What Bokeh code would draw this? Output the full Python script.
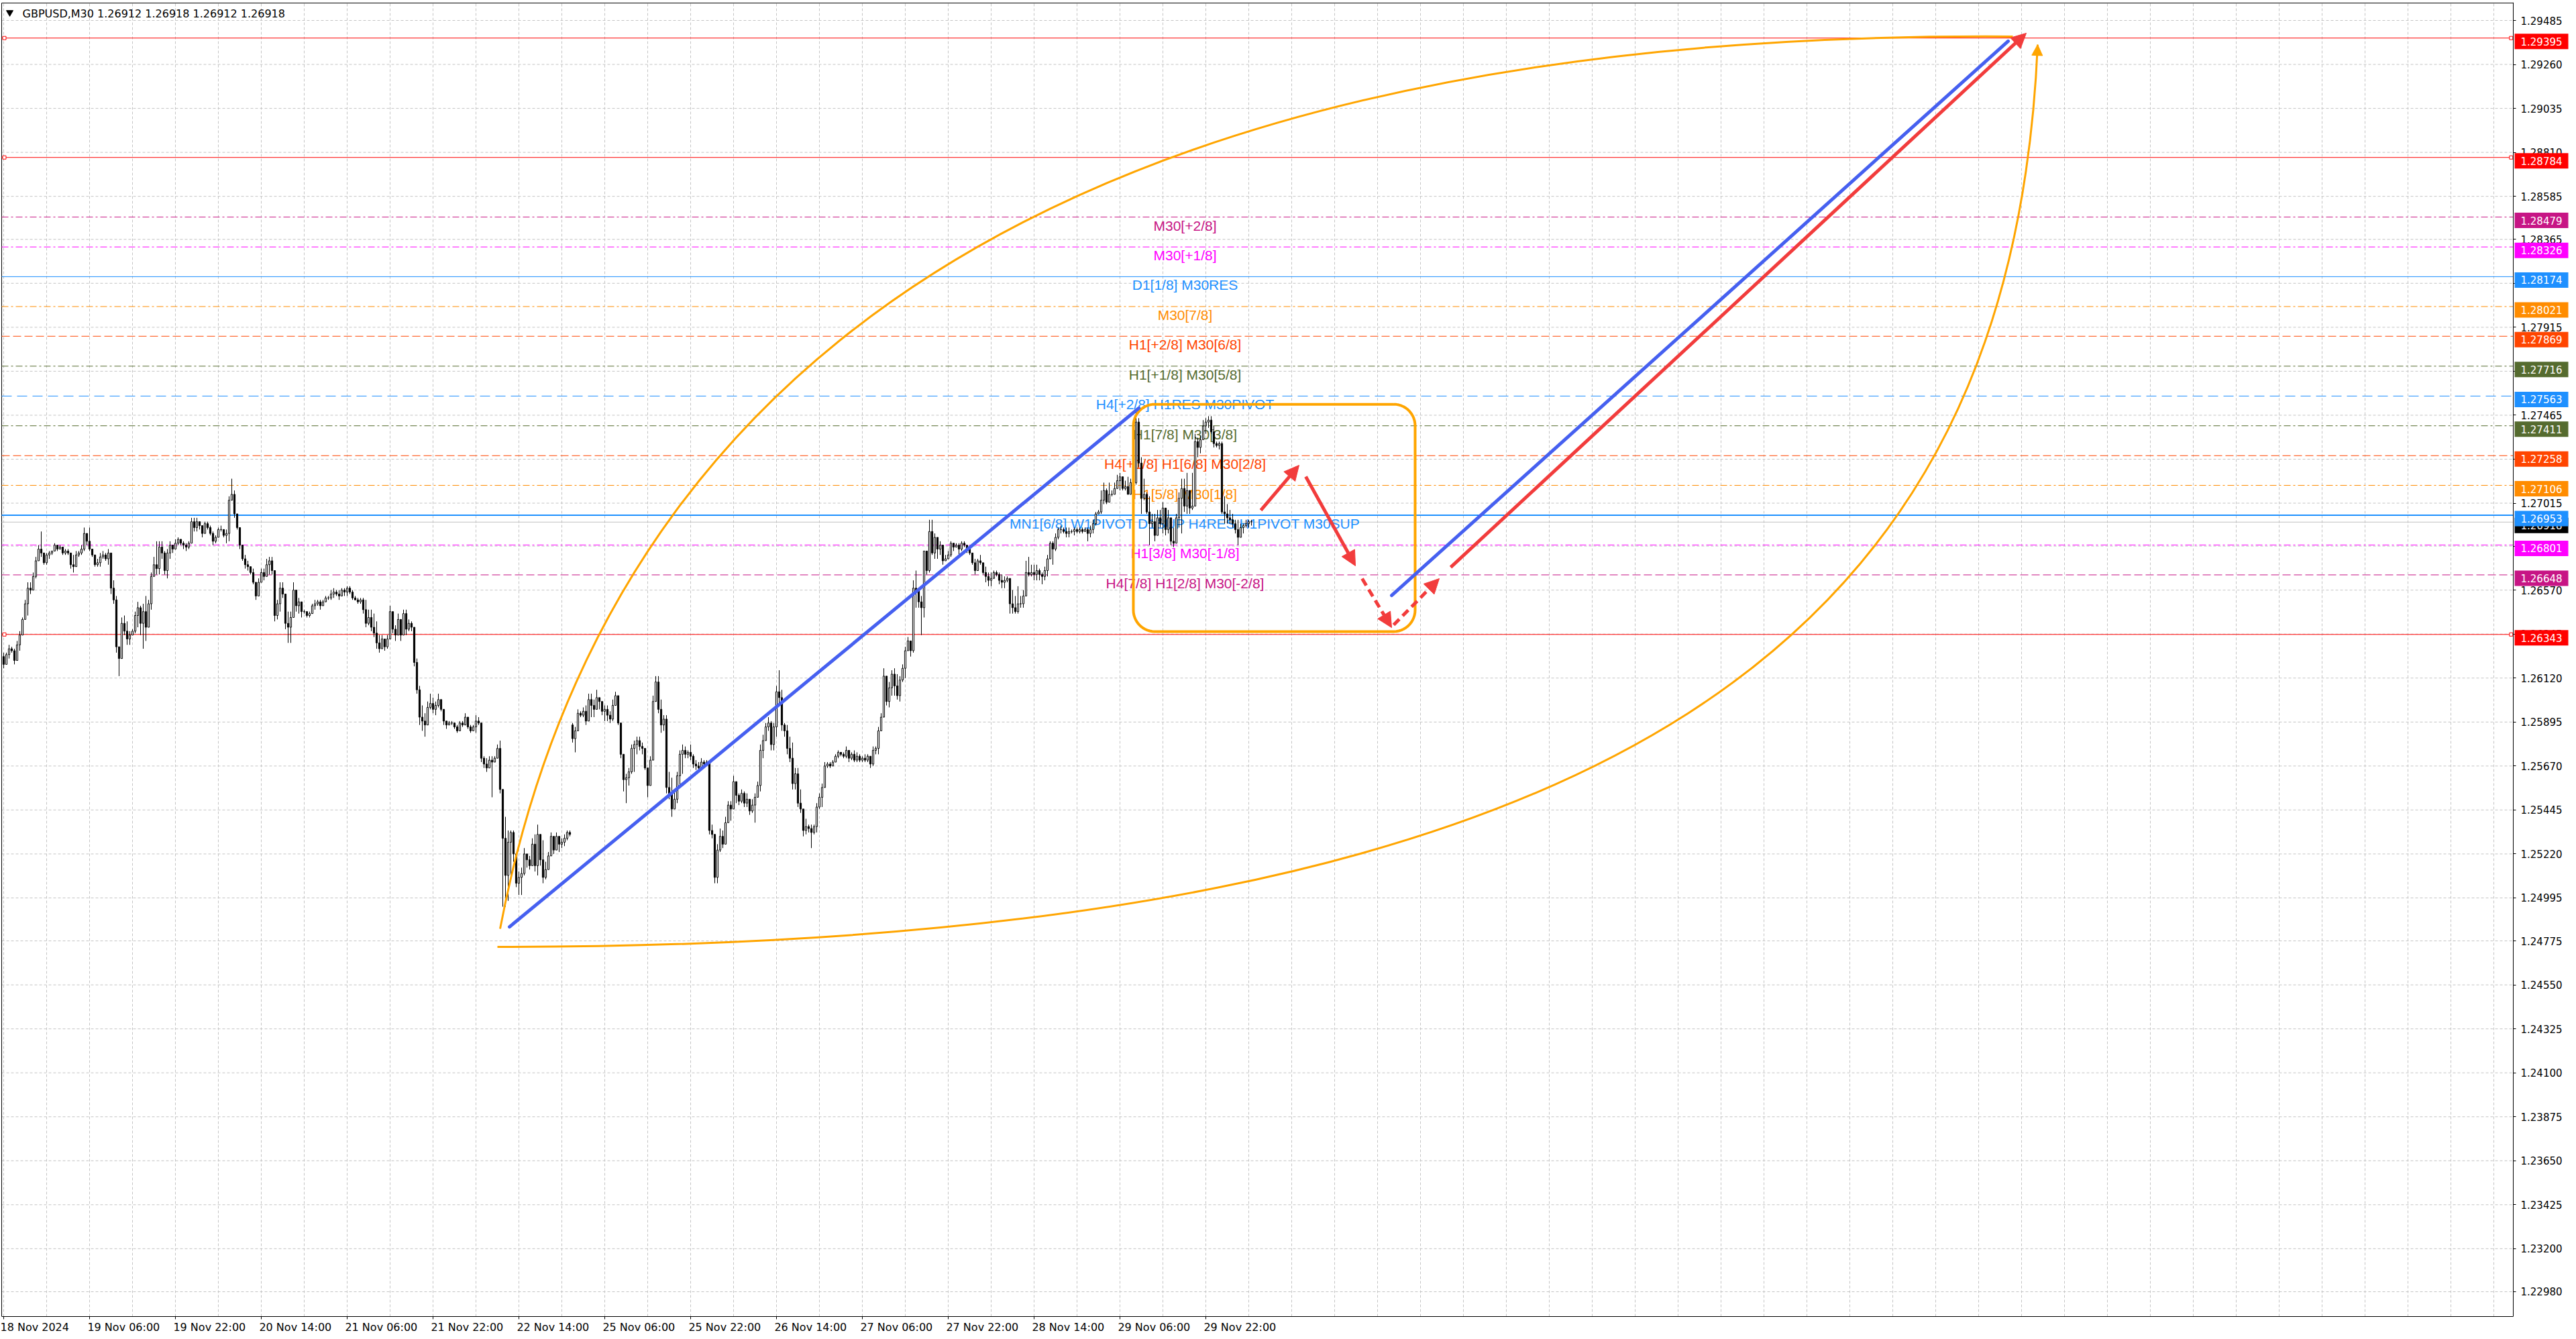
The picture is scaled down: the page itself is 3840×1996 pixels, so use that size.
import numpy as np
from bokeh.plotting import figure
from bokeh.models import (Range1d, FixedTicker, Arrow, NormalHead, LinearAxis,
                          ColumnDataSource, NumeralTickFormatter)
from bokeh.core.properties import value
from bokeh.embed import file_html
from bokeh.resources import INLINE

# ---------------- data ----------------
header = "GBPUSD,M30  1.26912 1.26918 1.26912 1.26918"

date_ticks = [0, 32, 64, 96, 128, 160, 192, 224, 256, 288, 320, 352, 384, 416, 448]
date_labels = ["18 Nov 2024", "19 Nov 06:00", "19 Nov 22:00", "20 Nov 14:00", "21 Nov 06:00",
               "21 Nov 22:00", "22 Nov 14:00", "25 Nov 06:00", "25 Nov 22:00", "26 Nov 14:00",
               "27 Nov 06:00", "27 Nov 22:00", "28 Nov 14:00", "29 Nov 06:00", "29 Nov 22:00"]

price_ticks = [1.29485, 1.29260, 1.29035, 1.28810, 1.28585, 1.28365, 1.28140, 1.27915, 1.27690,
               1.27465, 1.27240, 1.27015, 1.26795, 1.26570, 1.26345, 1.26120, 1.25895, 1.25670,
               1.25445, 1.25220, 1.24995, 1.24775, 1.24550, 1.24325, 1.24100, 1.23875, 1.23650,
               1.23425, 1.23200, 1.22980]

opens = [
 1.2623, 1.2619, 1.2624, 1.2627, 1.2626, 1.2621, 1.2629, 1.2634, 1.2642, 1.2650,
 1.2658, 1.2657, 1.2664, 1.2672, 1.2678, 1.2676, 1.2671, 1.2675, 1.2676, 1.2677,
 1.2680, 1.2678, 1.2679, 1.2676, 1.2677, 1.2676, 1.2670, 1.2669, 1.2675, 1.2676,
 1.2678, 1.2686, 1.2682, 1.2678, 1.2675, 1.2670, 1.2671, 1.2674, 1.2675, 1.2673,
 1.2676, 1.2658, 1.2652, 1.2628, 1.2622, 1.2640, 1.2636, 1.2632, 1.2634, 1.2636,
 1.2644, 1.2648, 1.2640, 1.2646, 1.2638, 1.2650, 1.2664, 1.2670, 1.2668, 1.2679,
 1.2676, 1.2667, 1.2676, 1.2680, 1.2678, 1.2681, 1.2683, 1.2681, 1.2680, 1.2679,
 1.2681, 1.2692, 1.2689, 1.2692, 1.2690, 1.2686, 1.2691, 1.2689, 1.2686, 1.2682,
 1.2684, 1.2688, 1.2688, 1.2685, 1.2686, 1.2703, 1.2706, 1.2696, 1.2689, 1.2680,
 1.2673, 1.2670, 1.2669, 1.2666, 1.2661, 1.2654, 1.2661, 1.2666, 1.2664, 1.2670,
 1.2672, 1.2667, 1.2644, 1.2650, 1.2658, 1.2655, 1.2640, 1.2638, 1.2643, 1.2657,
 1.2649, 1.2651, 1.2646, 1.2646, 1.2644, 1.2645, 1.2649, 1.2650, 1.2651, 1.2649,
 1.2651, 1.2653, 1.2653, 1.2655, 1.2656, 1.2655, 1.2654, 1.2657, 1.2656, 1.2658,
 1.2656, 1.2653, 1.2652, 1.2651, 1.2652, 1.2647, 1.2640, 1.2643, 1.2638, 1.2635,
 1.2630, 1.2627, 1.2632, 1.2628, 1.2632, 1.2646, 1.2637, 1.2634, 1.2642, 1.2634,
 1.2645, 1.2637, 1.2640, 1.2638, 1.2620, 1.2606, 1.2592, 1.2590, 1.2588, 1.2597,
 1.2599, 1.2596, 1.2598, 1.2601, 1.2596, 1.2590, 1.2588, 1.2589, 1.2589, 1.2587,
 1.2585, 1.2589, 1.2588, 1.2592, 1.2587, 1.2585, 1.2587, 1.2590, 1.2589, 1.2571,
 1.2568, 1.2566, 1.2570, 1.2569, 1.2571, 1.2576, 1.2555, 1.2530, 1.2511, 1.2528,
 1.2533, 1.2522, 1.2507, 1.2510, 1.2512, 1.2522, 1.2519, 1.2516, 1.2527, 1.2516,
 1.2532, 1.2519, 1.2510, 1.2514, 1.2521, 1.2531, 1.2524, 1.2531, 1.2527, 1.2528,
 1.2530, 1.2533, 1.2588, 1.2581, 1.2585, 1.2594, 1.2593, 1.2595, 1.2590, 1.2601,
 1.2598, 1.2596, 1.2602, 1.2600, 1.2595, 1.2596, 1.2593, 1.2591, 1.2598, 1.2603,
 1.2589, 1.2573, 1.2560, 1.2561, 1.2564, 1.2576, 1.2578, 1.2580, 1.2577, 1.2576,
 1.2566, 1.2557, 1.2570, 1.2600, 1.2610, 1.2596, 1.2588, 1.2591, 1.2556, 1.2553,
 1.2545, 1.2550, 1.2562, 1.2573, 1.2575, 1.2573, 1.2574, 1.2572, 1.2568, 1.2567,
 1.2566, 1.2569, 1.2568, 1.2569, 1.2534, 1.2532, 1.2510, 1.2524, 1.2531, 1.2527,
 1.2538, 1.2547, 1.2545, 1.2559, 1.2552, 1.2549, 1.2553, 1.2548, 1.2550, 1.2544,
 1.2547, 1.2551, 1.2557, 1.2575, 1.2580, 1.2587, 1.2589, 1.2578, 1.2587, 1.2605,
 1.2602, 1.2588, 1.2585, 1.2576, 1.2571, 1.2558, 1.2563, 1.2548, 1.2545, 1.2534,
 1.2536, 1.2535, 1.2533, 1.2536, 1.2546, 1.2551, 1.2556, 1.2567, 1.2568, 1.2567,
 1.2569, 1.2572, 1.2574, 1.2573, 1.2572, 1.2575, 1.2571, 1.2573, 1.2570, 1.2572,
 1.2570, 1.2571, 1.2570, 1.2572, 1.2568, 1.2575, 1.2576, 1.2585, 1.2592, 1.2613,
 1.2600, 1.2607, 1.2614, 1.2608, 1.2603, 1.2611, 1.2617, 1.2626, 1.2631, 1.2626,
 1.2658, 1.2657, 1.2651, 1.2648, 1.2677, 1.2667, 1.2687, 1.2676, 1.2684, 1.2678,
 1.2680, 1.2672, 1.2673, 1.2675, 1.2681, 1.2679, 1.2680, 1.2678, 1.2681, 1.2680,
 1.2678, 1.2676, 1.2671, 1.2667, 1.2672, 1.2671, 1.2666, 1.2664, 1.2662, 1.2663,
 1.2666, 1.2665, 1.2662, 1.2661, 1.2662, 1.2663, 1.2650, 1.2648, 1.2646, 1.2650,
 1.2650, 1.2654, 1.2666, 1.2665, 1.2666, 1.2665, 1.2667, 1.2665, 1.2664, 1.2667,
 1.2673, 1.2681, 1.2678, 1.2684, 1.2688, 1.2688, 1.2687, 1.2686, 1.2687, 1.2687,
 1.2688, 1.2687, 1.2688, 1.2687, 1.2688, 1.2686, 1.2688, 1.2691, 1.2696, 1.2697,
 1.2703, 1.2708, 1.2702, 1.2706, 1.2706, 1.2709, 1.2713, 1.2715, 1.2709, 1.2710,
 1.2706, 1.2712, 1.2712, 1.2743, 1.2722, 1.2704, 1.2706, 1.2697, 1.2691, 1.2692,
 1.2685, 1.2694, 1.2691, 1.2699, 1.2688, 1.2694, 1.2682, 1.2681, 1.2694, 1.2704,
 1.2709, 1.2700, 1.2708, 1.2699, 1.2700, 1.2733, 1.2730, 1.2734, 1.2741, 1.2743,
 1.2744, 1.2738, 1.2732, 1.2731, 1.2732, 1.2697, 1.2696, 1.2694, 1.2693, 1.2691,
 1.2688, 1.2684, 1.2689, 1.2690, 1.2691, 1.2692]

highs = [
 1.2625, 1.2625, 1.2629, 1.2628, 1.2627, 1.2631, 1.2636, 1.2643, 1.2652, 1.2661,
 1.2661, 1.2666, 1.2674, 1.2680, 1.2687, 1.2675, 1.2676, 1.2677, 1.2677, 1.2681,
 1.2680, 1.2680, 1.2679, 1.2678, 1.2678, 1.2676, 1.2675, 1.2677, 1.2677, 1.2680,
 1.2689, 1.2686, 1.2689, 1.2678, 1.2674, 1.2673, 1.2676, 1.2677, 1.2676, 1.2678,
 1.2674, 1.2662, 1.2654, 1.2627, 1.2643, 1.2644, 1.2641, 1.2636, 1.2637, 1.2646,
 1.2651, 1.2649, 1.2650, 1.2654, 1.2652, 1.2666, 1.2674, 1.2682, 1.2682, 1.2682,
 1.2677, 1.2678, 1.2682, 1.2680, 1.2683, 1.2684, 1.2683, 1.2682, 1.2681, 1.2682,
 1.2694, 1.2694, 1.2694, 1.2692, 1.2689, 1.2692, 1.2692, 1.2690, 1.2687, 1.2685,
 1.2689, 1.2690, 1.2688, 1.2688, 1.2705, 1.2714, 1.2708, 1.2696, 1.2689, 1.2680,
 1.2675, 1.2672, 1.2669, 1.2668, 1.2660, 1.2663, 1.2668, 1.2668, 1.2673, 1.2674,
 1.2674, 1.2666, 1.2652, 1.2661, 1.2661, 1.2653, 1.2646, 1.2646, 1.2661, 1.2654,
 1.2653, 1.2650, 1.2647, 1.2646, 1.2646, 1.2650, 1.2652, 1.2652, 1.2652, 1.2652,
 1.2654, 1.2654, 1.2657, 1.2658, 1.2657, 1.2657, 1.2658, 1.2658, 1.2659, 1.2659,
 1.2657, 1.2654, 1.2653, 1.2653, 1.2653, 1.2652, 1.2647, 1.2647, 1.2645, 1.2641,
 1.2634, 1.2634, 1.2631, 1.2634, 1.2649, 1.2645, 1.2639, 1.2645, 1.2641, 1.2647,
 1.2647, 1.2642, 1.2641, 1.2638, 1.2622, 1.2608, 1.2598, 1.2594, 1.2600, 1.2604,
 1.2602, 1.2600, 1.2604, 1.2601, 1.2596, 1.2590, 1.2590, 1.2590, 1.2589, 1.2588,
 1.2590, 1.2590, 1.2594, 1.2590, 1.2588, 1.2588, 1.2593, 1.2592, 1.2585, 1.2572,
 1.2571, 1.2572, 1.2572, 1.2572, 1.2578, 1.2580, 1.2554, 1.2541, 1.2534, 1.2534,
 1.2534, 1.2520, 1.2513, 1.2515, 1.2525, 1.2521, 1.2521, 1.2530, 1.2532, 1.2537,
 1.2530, 1.2529, 1.2518, 1.2523, 1.2533, 1.2530, 1.2533, 1.2530, 1.2530, 1.2532,
 1.2534, 1.2534, 1.2589, 1.2587, 1.2596, 1.2595, 1.2597, 1.2598, 1.2604, 1.2604,
 1.2601, 1.2606, 1.2602, 1.2600, 1.2598, 1.2598, 1.2595, 1.2601, 1.2605, 1.2601,
 1.2589, 1.2571, 1.2563, 1.2566, 1.2578, 1.2580, 1.2582, 1.2582, 1.2579, 1.2575,
 1.2566, 1.2572, 1.2603, 1.2613, 1.2613, 1.2601, 1.2593, 1.2593, 1.2564, 1.2561,
 1.2555, 1.2564, 1.2575, 1.2578, 1.2577, 1.2575, 1.2578, 1.2573, 1.2570, 1.2569,
 1.2571, 1.2570, 1.2570, 1.2568, 1.2537, 1.2532, 1.2527, 1.2535, 1.2534, 1.2541,
 1.2549, 1.2549, 1.2562, 1.2558, 1.2553, 1.2555, 1.2554, 1.2553, 1.2548, 1.2550,
 1.2553, 1.2559, 1.2578, 1.2583, 1.2589, 1.2592, 1.2590, 1.2589, 1.2608, 1.2616,
 1.2606, 1.2589, 1.2588, 1.2582, 1.2579, 1.2566, 1.2566, 1.2555, 1.2543, 1.2540,
 1.2537, 1.2537, 1.2537, 1.2548, 1.2553, 1.2558, 1.2569, 1.2569, 1.2569, 1.2570,
 1.2573, 1.2575, 1.2574, 1.2574, 1.2577, 1.2575, 1.2574, 1.2575, 1.2574, 1.2573,
 1.2572, 1.2573, 1.2573, 1.2572, 1.2577, 1.2577, 1.2587, 1.2594, 1.2617, 1.2611,
 1.2610, 1.2616, 1.2617, 1.2614, 1.2613, 1.2619, 1.2628, 1.2633, 1.2628, 1.2662,
 1.2667, 1.2657, 1.2654, 1.2677, 1.2677, 1.2693, 1.2693, 1.2686, 1.2682, 1.2682,
 1.2680, 1.2675, 1.2677, 1.2682, 1.2681, 1.2681, 1.2681, 1.2682, 1.2682, 1.2680,
 1.2679, 1.2676, 1.2673, 1.2673, 1.2675, 1.2670, 1.2669, 1.2666, 1.2666, 1.2667,
 1.2667, 1.2666, 1.2665, 1.2664, 1.2664, 1.2661, 1.2657, 1.2654, 1.2659, 1.2654,
 1.2657, 1.2672, 1.2674, 1.2670, 1.2670, 1.2670, 1.2668, 1.2666, 1.2669, 1.2675,
 1.2682, 1.2682, 1.2686, 1.2689, 1.2690, 1.2689, 1.2689, 1.2689, 1.2688, 1.2689,
 1.2689, 1.2689, 1.2689, 1.2689, 1.2689, 1.2690, 1.2693, 1.2697, 1.2698, 1.2708,
 1.2712, 1.2709, 1.2712, 1.2708, 1.2712, 1.2716, 1.2717, 1.2715, 1.2713, 1.2715,
 1.2714, 1.2714, 1.2748, 1.2745, 1.2725, 1.2714, 1.2707, 1.2705, 1.2696, 1.2696,
 1.2698, 1.2698, 1.2702, 1.2699, 1.2698, 1.2691, 1.2689, 1.2696, 1.2707, 1.2714,
 1.2714, 1.2717, 1.2707, 1.2717, 1.2737, 1.2735, 1.2736, 1.2744, 1.2745, 1.2746,
 1.2746, 1.2741, 1.2733, 1.2733, 1.2733, 1.2705, 1.2701, 1.2698, 1.2696, 1.2693,
 1.2693, 1.2691, 1.2691, 1.2693, 1.2693, 1.2693]

lows = [
 1.2617, 1.2621, 1.2622, 1.2625, 1.2619, 1.2622, 1.2626, 1.2638, 1.2643, 1.2644,
 1.2655, 1.2657, 1.2663, 1.2672, 1.2674, 1.2670, 1.2670, 1.2673, 1.2675, 1.2677,
 1.2677, 1.2678, 1.2675, 1.2675, 1.2675, 1.2668, 1.2666, 1.2672, 1.2674, 1.2675,
 1.2677, 1.2680, 1.2677, 1.2674, 1.2669, 1.2669, 1.2669, 1.2673, 1.2672, 1.2670,
 1.2655, 1.2650, 1.2625, 1.2613, 1.2625, 1.2634, 1.2629, 1.2629, 1.2634, 1.2635,
 1.2638, 1.2634, 1.2627, 1.2631, 1.2638, 1.2647, 1.2665, 1.2665, 1.2665, 1.2673,
 1.2665, 1.2663, 1.2673, 1.2676, 1.2678, 1.2680, 1.2680, 1.2678, 1.2677, 1.2678,
 1.2685, 1.2687, 1.2687, 1.2688, 1.2684, 1.2688, 1.2688, 1.2685, 1.2680, 1.2681,
 1.2685, 1.2687, 1.2684, 1.2681, 1.2682, 1.2704, 1.2694, 1.2688, 1.2678, 1.2672,
 1.2668, 1.2667, 1.2665, 1.2660, 1.2652, 1.2657, 1.2663, 1.2662, 1.2666, 1.2665,
 1.2665, 1.2641, 1.2642, 1.2646, 1.2653, 1.2637, 1.2630, 1.2630, 1.2645, 1.2646,
 1.2645, 1.2643, 1.2645, 1.2643, 1.2643, 1.2646, 1.2647, 1.2649, 1.2647, 1.2650,
 1.2651, 1.2652, 1.2652, 1.2653, 1.2654, 1.2652, 1.2654, 1.2654, 1.2654, 1.2655,
 1.2652, 1.2652, 1.2650, 1.2650, 1.2645, 1.2638, 1.2639, 1.2636, 1.2633, 1.2627,
 1.2625, 1.2627, 1.2626, 1.2627, 1.2634, 1.2635, 1.2631, 1.2634, 1.2631, 1.2634,
 1.2634, 1.2636, 1.2636, 1.2618, 1.2604, 1.2588, 1.2585, 1.2582, 1.2588, 1.2596,
 1.2594, 1.2593, 1.2597, 1.2595, 1.2588, 1.2586, 1.2588, 1.2588, 1.2586, 1.2584,
 1.2586, 1.2587, 1.2588, 1.2586, 1.2584, 1.2585, 1.2584, 1.2588, 1.2569, 1.2566,
 1.2564, 1.2566, 1.2551, 1.2569, 1.2571, 1.2553, 1.2495, 1.2495, 1.2498, 1.2509,
 1.2518, 1.2505, 1.2501, 1.2501, 1.2511, 1.2515, 1.2514, 1.2517, 1.2513, 1.2511,
 1.2516, 1.2507, 1.2509, 1.2515, 1.2521, 1.2522, 1.2527, 1.2523, 1.2525, 1.2526,
 1.2529, 1.2531, 1.2579, 1.2574, 1.2586, 1.2592, 1.2592, 1.2588, 1.2594, 1.2592,
 1.2592, 1.2598, 1.2596, 1.2593, 1.2590, 1.2590, 1.2589, 1.2590, 1.2598, 1.2588,
 1.2571, 1.2554, 1.2548, 1.2557, 1.2563, 1.2564, 1.2573, 1.2575, 1.2573, 1.2565,
 1.2551, 1.2559, 1.2571, 1.2603, 1.2594, 1.2584, 1.2585, 1.2553, 1.2550, 1.2541,
 1.2548, 1.2548, 1.2557, 1.2563, 1.2571, 1.2571, 1.2570, 1.2566, 1.2565, 1.2564,
 1.2566, 1.2567, 1.2568, 1.2532, 1.2530, 1.2507, 1.2507, 1.2523, 1.2525, 1.2530,
 1.2539, 1.2539, 1.2548, 1.2548, 1.2547, 1.2548, 1.2546, 1.2546, 1.2542, 1.2543,
 1.2538, 1.2553, 1.2554, 1.2571, 1.2580, 1.2585, 1.2575, 1.2575, 1.2582, 1.2598,
 1.2585, 1.2582, 1.2573, 1.2569, 1.2555, 1.2555, 1.2546, 1.2543, 1.2531, 1.2532,
 1.2533, 1.2525, 1.2532, 1.2533, 1.2545, 1.2546, 1.2557, 1.2566, 1.2566, 1.2568,
 1.2569, 1.2571, 1.2572, 1.2571, 1.2571, 1.2569, 1.2570, 1.2569, 1.2569, 1.2569,
 1.2569, 1.2569, 1.2569, 1.2566, 1.2567, 1.2573, 1.2573, 1.2586, 1.2592, 1.2598,
 1.2597, 1.2603, 1.2603, 1.2601, 1.2600, 1.2610, 1.2612, 1.2626, 1.2623, 1.2625,
 1.2648, 1.2648, 1.2634, 1.2643, 1.2665, 1.2666, 1.2675, 1.2673, 1.2673, 1.2675,
 1.2670, 1.2672, 1.2673, 1.2674, 1.2677, 1.2679, 1.2675, 1.2677, 1.2679, 1.2676,
 1.2675, 1.2670, 1.2665, 1.2668, 1.2670, 1.2665, 1.2661, 1.2659, 1.2659, 1.2663,
 1.2664, 1.2660, 1.2658, 1.2658, 1.2661, 1.2645, 1.2645, 1.2645, 1.2645, 1.2648,
 1.2648, 1.2654, 1.2664, 1.2664, 1.2662, 1.2662, 1.2662, 1.2660, 1.2662, 1.2664,
 1.2675, 1.2670, 1.2677, 1.2683, 1.2686, 1.2686, 1.2684, 1.2684, 1.2686, 1.2685,
 1.2686, 1.2686, 1.2686, 1.2688, 1.2682, 1.2684, 1.2686, 1.2690, 1.2696, 1.2696,
 1.2701, 1.2701, 1.2703, 1.2705, 1.2707, 1.2709, 1.2708, 1.2708, 1.2708, 1.2706,
 1.2706, 1.2707, 1.2711, 1.2720, 1.2696, 1.2703, 1.2696, 1.2680, 1.2689, 1.2682,
 1.2686, 1.2689, 1.2686, 1.2685, 1.2686, 1.2680, 1.2679, 1.2686, 1.2689, 1.2686,
 1.2697, 1.2696, 1.2696, 1.2698, 1.2704, 1.2725, 1.2727, 1.2734, 1.2737, 1.2740,
 1.2737, 1.2730, 1.2730, 1.2729, 1.2696, 1.2691, 1.2691, 1.2691, 1.2689, 1.2686,
 1.2680, 1.2684, 1.2686, 1.2689, 1.2689, 1.2690]

closes = [
 1.2619, 1.2624, 1.2627, 1.2626, 1.2621, 1.2629, 1.2634, 1.2642, 1.2650, 1.2658,
 1.2657, 1.2664, 1.2672, 1.2678, 1.2676, 1.2671, 1.2675, 1.2676, 1.2677, 1.2680,
 1.2678, 1.2679, 1.2676, 1.2677, 1.2676, 1.2670, 1.2669, 1.2675, 1.2676, 1.2678,
 1.2686, 1.2682, 1.2678, 1.2675, 1.2670, 1.2671, 1.2674, 1.2675, 1.2673, 1.2676,
 1.2658, 1.2652, 1.2628, 1.2622, 1.2640, 1.2636, 1.2632, 1.2634, 1.2636, 1.2644,
 1.2648, 1.2640, 1.2646, 1.2638, 1.2650, 1.2664, 1.2670, 1.2668, 1.2679, 1.2676,
 1.2667, 1.2676, 1.2680, 1.2678, 1.2681, 1.2683, 1.2681, 1.2680, 1.2679, 1.2681,
 1.2692, 1.2689, 1.2692, 1.2690, 1.2686, 1.2691, 1.2689, 1.2686, 1.2682, 1.2684,
 1.2688, 1.2688, 1.2685, 1.2686, 1.2703, 1.2706, 1.2696, 1.2689, 1.2680, 1.2673,
 1.2670, 1.2669, 1.2666, 1.2661, 1.2654, 1.2661, 1.2666, 1.2664, 1.2670, 1.2672,
 1.2667, 1.2644, 1.2650, 1.2658, 1.2655, 1.2640, 1.2638, 1.2643, 1.2657, 1.2649,
 1.2651, 1.2646, 1.2646, 1.2644, 1.2645, 1.2649, 1.2650, 1.2651, 1.2649, 1.2651,
 1.2653, 1.2653, 1.2655, 1.2656, 1.2655, 1.2654, 1.2657, 1.2656, 1.2658, 1.2656,
 1.2653, 1.2652, 1.2651, 1.2652, 1.2647, 1.2640, 1.2643, 1.2638, 1.2635, 1.2630,
 1.2627, 1.2632, 1.2628, 1.2632, 1.2646, 1.2637, 1.2634, 1.2642, 1.2634, 1.2645,
 1.2637, 1.2640, 1.2638, 1.2620, 1.2606, 1.2592, 1.2590, 1.2588, 1.2597, 1.2599,
 1.2596, 1.2598, 1.2601, 1.2596, 1.2590, 1.2588, 1.2589, 1.2589, 1.2587, 1.2585,
 1.2589, 1.2588, 1.2592, 1.2587, 1.2585, 1.2587, 1.2590, 1.2589, 1.2571, 1.2568,
 1.2566, 1.2570, 1.2569, 1.2571, 1.2576, 1.2555, 1.2530, 1.2511, 1.2528, 1.2533,
 1.2522, 1.2507, 1.2510, 1.2512, 1.2522, 1.2519, 1.2516, 1.2527, 1.2516, 1.2532,
 1.2519, 1.2510, 1.2514, 1.2521, 1.2531, 1.2524, 1.2531, 1.2527, 1.2528, 1.2530,
 1.2533, 1.2532, 1.2581, 1.2585, 1.2594, 1.2593, 1.2595, 1.2590, 1.2601, 1.2598,
 1.2596, 1.2602, 1.2600, 1.2595, 1.2596, 1.2593, 1.2591, 1.2598, 1.2603, 1.2589,
 1.2573, 1.2560, 1.2561, 1.2564, 1.2576, 1.2578, 1.2580, 1.2577, 1.2576, 1.2566,
 1.2557, 1.2570, 1.2600, 1.2610, 1.2596, 1.2588, 1.2591, 1.2556, 1.2553, 1.2545,
 1.2550, 1.2562, 1.2573, 1.2575, 1.2573, 1.2574, 1.2572, 1.2568, 1.2567, 1.2566,
 1.2569, 1.2568, 1.2569, 1.2534, 1.2532, 1.2510, 1.2524, 1.2531, 1.2527, 1.2538,
 1.2547, 1.2545, 1.2559, 1.2552, 1.2549, 1.2553, 1.2548, 1.2550, 1.2544, 1.2547,
 1.2551, 1.2557, 1.2575, 1.2580, 1.2587, 1.2589, 1.2578, 1.2587, 1.2605, 1.2602,
 1.2588, 1.2585, 1.2576, 1.2571, 1.2558, 1.2563, 1.2548, 1.2545, 1.2534, 1.2536,
 1.2535, 1.2533, 1.2536, 1.2546, 1.2551, 1.2556, 1.2567, 1.2568, 1.2567, 1.2569,
 1.2572, 1.2574, 1.2573, 1.2572, 1.2575, 1.2571, 1.2573, 1.2570, 1.2572, 1.2570,
 1.2571, 1.2570, 1.2572, 1.2568, 1.2575, 1.2576, 1.2585, 1.2592, 1.2613, 1.2600,
 1.2607, 1.2614, 1.2608, 1.2603, 1.2611, 1.2617, 1.2626, 1.2631, 1.2626, 1.2658,
 1.2657, 1.2651, 1.2648, 1.2677, 1.2667, 1.2687, 1.2676, 1.2684, 1.2678, 1.2680,
 1.2672, 1.2673, 1.2675, 1.2681, 1.2679, 1.2680, 1.2678, 1.2681, 1.2680, 1.2678,
 1.2676, 1.2671, 1.2667, 1.2672, 1.2671, 1.2666, 1.2664, 1.2662, 1.2663, 1.2666,
 1.2665, 1.2662, 1.2661, 1.2662, 1.2663, 1.2650, 1.2648, 1.2646, 1.2650, 1.2650,
 1.2654, 1.2666, 1.2665, 1.2666, 1.2665, 1.2667, 1.2665, 1.2664, 1.2667, 1.2673,
 1.2681, 1.2678, 1.2684, 1.2688, 1.2688, 1.2687, 1.2686, 1.2687, 1.2687, 1.2688,
 1.2687, 1.2688, 1.2687, 1.2688, 1.2686, 1.2688, 1.2691, 1.2696, 1.2697, 1.2703,
 1.2708, 1.2702, 1.2706, 1.2706, 1.2709, 1.2713, 1.2715, 1.2709, 1.2710, 1.2706,
 1.2712, 1.2712, 1.2743, 1.2722, 1.2704, 1.2706, 1.2697, 1.2691, 1.2692, 1.2685,
 1.2694, 1.2691, 1.2699, 1.2688, 1.2694, 1.2682, 1.2681, 1.2694, 1.2704, 1.2709,
 1.2700, 1.2708, 1.2699, 1.2700, 1.2733, 1.2730, 1.2734, 1.2741, 1.2743, 1.2744,
 1.2738, 1.2732, 1.2731, 1.2732, 1.2697, 1.2696, 1.2694, 1.2693, 1.2691, 1.2688,
 1.2684, 1.2689, 1.2690, 1.2691, 1.2692, 1.2692]

# Murrey-style levels (price, label, colour, dash, width)
level_prices = [1.28479, 1.28326, 1.28174, 1.28021, 1.27869, 1.27716, 1.27563,
                1.27411, 1.27258, 1.27106, 1.26953, 1.26801, 1.26648]
level_labels = ["M30[+2/8]", "M30[+1/8]", "D1[1/8] M30RES", "M30[7/8]", "H1[+2/8] M30[6/8]",
                "H1[+1/8] M30[5/8]", "H4[+2/8] H1RES M30PIVOT", "H1[7/8] M30[3/8]",
                "H4[+1/8] H1[6/8] M30[2/8]", "H1[5/8] M30[1/8]",
                "MN1[6/8] W1PIVOT D1SUP H4RES H1PIVOT M30SUP", "H1[3/8] M30[-1/8]",
                "H4[7/8] H1[2/8] M30[-2/8]"]
level_colors = ["#C71585", "#FF00FF", "#1E90FF", "#FF8C00", "#FF4500", "#556B2F", "#1E90FF",
                "#556B2F", "#FF4500", "#FF8C00", "#1E90FF", "#FF00FF", "#C71585"]
level_dash = ["10 4 3 4", "10 4 3 4", "solid", "10 4 3 4", "12 5", "10 4 3 4", "15 8",
              "10 4 3 4", "12 5", "10 4 3 4", "solid", "10 4 3 4", "12 5"]
level_width = [1, 1, 1, 1, 1, 1, 1, 1, 1, 1, 2, 1, 1]
red_levels = [1.29395, 1.28784, 1.26343]
bid_price = 1.26918
label_x = 440.25

# price tags on the price scale (drawn in order; later ones cover earlier ones)
tag_prices = [1.29395, 1.28784, 1.28479, 1.28326, 1.28174, 1.28021, 1.27869, 1.27716,
              1.27563, 1.27411, 1.27258, 1.27106, 1.26918, 1.26953, 1.26801, 1.26648, 1.26343]
tag_colors = ["#FF0000", "#FF0000", "#C71585", "#FF00FF", "#1E90FF", "#FF8C00", "#FF4500",
              "#556B2F", "#1E90FF", "#556B2F", "#FF4500", "#FF8C00", "#000000", "#1E90FF",
              "#FF00FF", "#C71585", "#FF0000"]

# analyst drawings (bar index, price)
blue_lines = [((188.5, 1.24847), (423.0, 1.27501)), ((517.25, 1.26543), (747.0, 1.29379))]
red_arrows = [((539.25, 1.26687), (753.75, 1.29420), "solid"),
              ((468.5, 1.26979), (482.75, 1.27209), "solid"),
              ((485.25, 1.27151), (503.75, 1.26694), "solid"),
              ((506.25, 1.26629), (517.25, 1.26378), "12 7"),
              ((518.0, 1.26392), (535.0, 1.26629), "12 7")]
box_left, box_right, box_bottom, box_top = 421.0, 526.0, 1.26358, 1.27521
upper_curve = dict(x0=185.0, y0=1.24837, cx=248.75, cy=1.29451, x1=748.75, y1=1.29403)
lower_curve = dict(x0=184.0, y0=1.24744, cx0=611.0, cy0=1.24744, cx1=748.75, cy1=1.26392,
                   x1=758.0, y1=1.29361)

# ---------------- layout ----------------
PX_PER_BAR = 4.0
PX_PER_PRICE = 29131.0
FRAME_W, FRAME_H = 3838, 1959
X0 = -1.0                      # frame left edge (page x = 1)
X1 = X0 + FRAME_W / PX_PER_BAR
X_AXIS = 935.25                # price scale line
X_LEFT = -0.75                 # chart left border
Y1 = 1.29485 + 27 / PX_PER_PRICE
Y0 = Y1 - FRAME_H / PX_PER_PRICE
Y_TOPLINE = 1.29485 + 26 / PX_PER_PRICE

p = figure(frame_width=FRAME_W, frame_height=FRAME_H,
           x_range=Range1d(X0, X1), y_range=Range1d(Y0, Y1),
           y_axis_location=None, output_backend="svg", toolbar_location=None,
           min_border_left=1, min_border_top=3, min_border_right=0, min_border_bottom=30,
           background_fill_color="white", border_fill_color="white")
p.outline_line_color = None

# grid (vertical via Bokeh grid, horizontal drawn up to the price scale)
p.xgrid.ticker = FixedTicker(ticks=list(range(0, int(X_AXIS), 16)))
p.xgrid.grid_line_color = "#C4C4C4"
p.xgrid.grid_line_dash = "4 3"
p.ygrid.visible = False
for t in price_ticks:
    p.segment(x0=[X_LEFT], y0=[t], x1=[X_AXIS], y1=[t], line_color="#C4C4C4",
              line_dash="4 3", line_width=1)

# price axis fixed at the right edge of the chart area
yax = LinearAxis(fixed_location=X_AXIS)
yax.ticker = FixedTicker(ticks=price_ticks)
yax.formatter = NumeralTickFormatter(format="0.00000")
yax.major_tick_out = 4
yax.major_tick_in = 0
yax.minor_tick_line_color = None
yax.major_label_standoff = 7
yax.major_label_text_font = "DejaVu Sans"
yax.major_label_text_font_size = "15px"
yax.major_label_text_color = "black"
yax.axis_line_color = "black"
p.add_layout(yax, "right")

# time axis (labels start at their tick like the terminal does; the first one sits at the edge)
PAD = "\u00a0" * 20
p.xaxis.ticker = FixedTicker(ticks=date_ticks)
p.xaxis.major_label_overrides = {t: (l if t == date_ticks[0] else PAD + l)
                                 for t, l in zip(date_ticks, date_labels)}
p.xaxis.bounds = (X_LEFT, X_AXIS)
p.xaxis.major_tick_out = 4
p.xaxis.major_tick_in = 0
p.xaxis.minor_tick_line_color = None
p.xaxis.major_label_standoff = 2
p.xaxis.major_label_text_font = "DejaVu Sans"
p.xaxis.major_label_text_font_size = "16px"
p.xaxis.major_label_text_color = "black"
p.xaxis.axis_line_color = "black"

# chart border (left and top)
p.segment(x0=[X_LEFT, X_LEFT], y0=[Y0, Y_TOPLINE], x1=[X_LEFT, X_AXIS], y1=[Y_TOPLINE, Y_TOPLINE],
          line_color="black", line_width=1)

# horizontal level lines
for pr, col, dash, w in zip(level_prices, level_colors, level_dash, level_width):
    p.segment(x0=[X_LEFT], y0=[pr], x1=[X_AXIS], y1=[pr], line_color=col, line_dash=dash,
              line_width=w)
for pr in red_levels:
    p.segment(x0=[X_LEFT], y0=[pr], x1=[X_AXIS], y1=[pr], line_color="#FF0000", line_width=1)
p.segment(x0=[X_LEFT], y0=[bid_price], x1=[X_AXIS], y1=[bid_price], line_color="#C0C0C0",
          line_width=1)
p.scatter(x=[X_LEFT + 1.0] * 3 + [X_AXIS - 0.8] * 3, y=red_levels * 2, marker="square", size=5,
          line_color="#FF0000", fill_color="white", line_width=1)

# level texts
p.text(x=[label_x] * len(level_prices), y=level_prices, text=level_labels,
       text_color=level_colors, text_font=value("Liberation Sans"), text_font_size="21px",
       text_align="center", text_baseline="top", y_offset=1)

# candles
xs = list(range(len(closes)))
body_fill = ["white" if c > o else "black" for o, c in zip(opens, closes)]
src = ColumnDataSource(dict(x=xs, o=opens, h=highs, l=lows, c=closes, f=body_fill))
p.segment(x0="x", y0="h", x1="x", y1="l", source=src, line_color="black", line_width=1)
p.vbar(x="x", width=0.55, top="o", bottom="c", source=src, fill_color="f",
       line_color="black", line_width=1)

# orange rounded box
rx = 32 / PX_PER_BAR
ry = 32 / PX_PER_PRICE
def arc(cx, cy, a0, a1):
    t = np.linspace(np.radians(a0), np.radians(a1), 14)
    return cx + rx * np.cos(t), cy + ry * np.sin(t)
parts = [arc(box_right - rx, box_top - ry, 90, 0),
         arc(box_right - rx, box_bottom + ry, 0, -90),
         arc(box_left + rx, box_bottom + ry, -90, -180),
         arc(box_left + rx, box_top - ry, 180, 90)]
bx = np.concatenate([q[0] for q in parts] + [parts[0][0][:1]])
by = np.concatenate([q[1] for q in parts] + [parts[0][1][:1]])
ORANGE = "#FFA500"
p.line(bx, by, line_color=ORANGE, line_width=4)

# orange curves
p.quadratic(x0=[upper_curve["x0"]], y0=[upper_curve["y0"]], x1=[upper_curve["x1"]],
            y1=[upper_curve["y1"]], cx=[upper_curve["cx"]], cy=[upper_curve["cy"]],
            line_color=ORANGE, line_width=3)
p.bezier(x0=[lower_curve["x0"]], y0=[lower_curve["y0"]], x1=[lower_curve["x1"]],
         y1=[lower_curve["y1"]], cx0=[lower_curve["cx0"]], cy0=[lower_curve["cy0"]],
         cx1=[lower_curve["cx1"]], cy1=[lower_curve["cy1"]], line_color=ORANGE, line_width=3)
dxp = (lower_curve["x1"] - lower_curve["cx1"]) * 0.02
dyp = (lower_curve["y1"] - lower_curve["cy1"]) * 0.02
p.add_layout(Arrow(end=NormalHead(size=16, fill_color=ORANGE, line_color=ORANGE),
                   x_start=lower_curve["x1"] - dxp, y_start=lower_curve["y1"] - dyp,
                   x_end=lower_curve["x1"], y_end=lower_curve["y1"],
                   line_color=ORANGE, line_width=3))

# blue lines
BLUE = "#4660F0"
for (a, b) in blue_lines:
    p.line([a[0], b[0]], [a[1], b[1]], line_color=BLUE, line_width=5, line_cap="round")

# red arrows
RED = "#F23C3C"
for (a, b, dash) in red_arrows:
    p.add_layout(Arrow(end=NormalHead(size=22, fill_color=RED, line_color=RED),
                       x_start=a[0], y_start=a[1], x_end=b[0], y_end=b[1],
                       line_color=RED, line_width=5, line_dash=dash))

# header
p.scatter(x=[2.25], y=[1.29526], marker="inverted_triangle", size=10,
          fill_color="black", line_color="black")
p.text(x=[7.0], y=[1.29519], text=[header], text_font=value("DejaVu Sans"),
       text_font_size="16px", text_color="black", text_align="left", text_baseline="middle")

# price tags on the scale (above the axis labels)
TAG_SHIFT = 5 / PX_PER_PRICE
tag_y = [pr - TAG_SHIFT for pr in tag_prices]
tag_txt = [f"{pr:.5f}" for pr in tag_prices]
for y, col, txt in zip(tag_y, tag_colors, tag_txt):
    p.rect(x=[945.75], y=[y], width=20.0, height=23, height_units="screen",
           fill_color=col, line_color=None, level="overlay")
    p.text(x=[938.0], y=[y], text=[txt], text_color="white", text_font=value("DejaVu Sans"),
           text_font_size="15px", text_align="left", text_baseline="middle", level="overlay")

open("out.html", "w").write(file_html(p, INLINE))
